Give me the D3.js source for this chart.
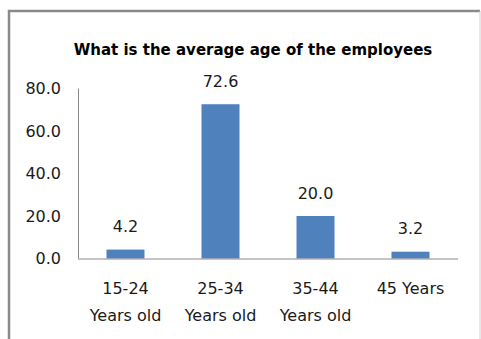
<!DOCTYPE html>
<html>
<head>
<meta charset="utf-8">
<script src="https://cdn.jsdelivr.net/npm/d3@7"></script>
<style>
  html, body { margin: 0; padding: 0; background: #fff; }
  svg { display: block; }
  text { font-family: "DejaVu Sans", "Liberation Sans", sans-serif; fill: #1a1a1a; }
</style>
</head>
<body>
<svg id="chart" width="481" height="339"></svg>
<script>
// Age bands of the staff and their share (%)
const categories = ["15-24|Years old", "25-34|Years old", "35-44|Years old", "45 Years"];
const values = [4.2, 72.6, 20.0, 3.2];
const yTicks = [0, 20, 40, 60, 80];
const title = "What is the average age of the employees";

const svg = d3.select("#chart");

// Chart frame
svg.append("path")
  .attr("d", "M9,345 V11 H480")
  .attr("fill", "none")
  .attr("stroke", "#8a8a8a")
  .attr("stroke-width", 2.5);
svg.append("line")
  .attr("x1", 480).attr("x2", 480).attr("y1", 11).attr("y2", 345)
  .attr("stroke", "#d0d0d0").attr("stroke-width", 1);

svg.append("text")
  .attr("x", 253).attr("y", 55)
  .attr("text-anchor", "middle")
  .attr("font-size", 15)
  .attr("font-weight", "bold")
  .style("fill", "#000")
  .text(title);

const x = d3.scaleBand()
  .domain(categories)
  .range([78, 458])
  .paddingInner(0.6)
  .paddingOuter(0.3);

const y = d3.scaleLinear()
  .domain([0, 80])
  .range([258.5, 88.5]);

// Value axis: labels only, with a plain axis line
const yAxis = svg.append("g")
  .attr("transform", "translate(78,0)")
  .call(d3.axisLeft(y).tickValues(yTicks).tickFormat(d3.format(".1f")).tickSize(0).tickPadding(17));
yAxis.select(".domain").attr("stroke", "#8a8a8a").attr("d", `M0.5,${y(80)}V${y(0)}`);
yAxis.selectAll("text")
  .attr("font-size", 16)
  .attr("font-family", "DejaVu Sans, Liberation Sans, sans-serif")
  .attr("fill", "#1a1a1a");

// Bars
svg.append("g").selectAll("rect")
  .data(values)
  .join("rect")
  .attr("x", (d, i) => x(categories[i]))
  .attr("width", x.bandwidth())
  .attr("y", d => y(d))
  .attr("height", d => y(0) - y(d))
  .attr("fill", "#4f81bd");

// Category axis line
svg.append("line")
  .attr("x1", 78).attr("x2", 458)
  .attr("y1", y(0) + 0.5).attr("y2", y(0) + 0.5)
  .attr("stroke", "#8a8a8a");

// Data labels
svg.append("g").selectAll("text")
  .data(values)
  .join("text")
  .attr("x", (d, i) => x(categories[i]) + x.bandwidth() / 2)
  .attr("y", d => y(d) - 23)
  .attr("dy", "0.35em")
  .attr("text-anchor", "middle")
  .attr("font-size", 16)
  .text(d => d.toFixed(1));

// Category labels, split into lines
const cat = svg.append("g").selectAll("text")
  .data(categories)
  .join("text")
  .attr("text-anchor", "middle")
  .attr("font-size", 16);
cat.each(function(c) {
  const lines = c.split("|");
  const cx = x(c) + x.bandwidth() / 2;
  d3.select(this).selectAll("tspan")
    .data(lines)
    .join("tspan")
    .attr("x", cx)
    .attr("y", (l, i) => 288 + i * 27)
    .attr("dy", "0.35em")
    .text(l => l);
});
</script>
</body>
</html>
